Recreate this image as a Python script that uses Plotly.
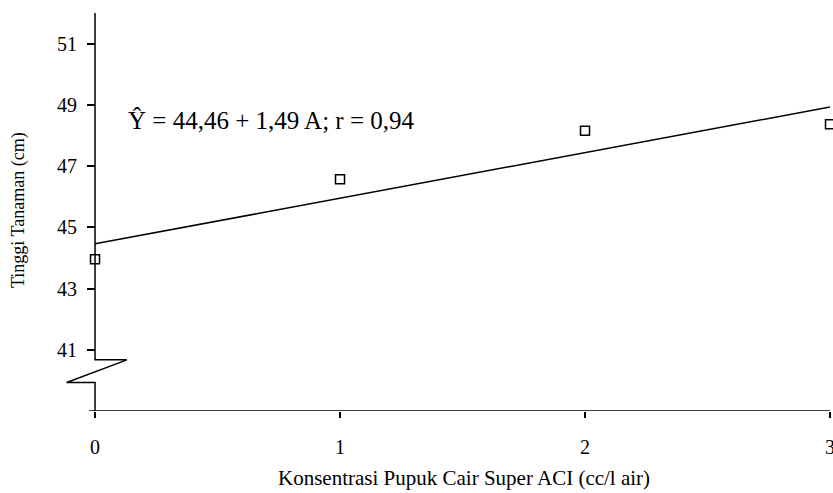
import plotly.graph_objects as go

# Data
konsentrasi = [0, 1, 2, 3]
tinggi = [43.96, 46.57, 48.15, 48.37]
intercept = 44.46
slope = 1.49
y_ticks = [41, 43, 45, 47, 49, 51]
x_ticks = [0, 1, 2, 3]

FONT = "Liberation Serif"
X0, X1 = -0.143, 3.0
Y0, Y1 = 39.0, 52.0

fit_x = [konsentrasi[0], konsentrasi[-1]]
fit_y = [intercept + slope * v for v in fit_x]

fig = go.Figure()
fig.add_trace(go.Scatter(x=fit_x, y=fit_y, mode="lines",
                         line=dict(color="black", width=1.5), showlegend=False))
fig.add_trace(go.Scatter(x=konsentrasi, y=tinggi, mode="markers",
                         marker=dict(symbol="square-open", size=9, color="black",
                                     line=dict(width=1.5, color="black")),
                         cliponaxis=False, showlegend=False))

line_style = dict(color="black", width=1.5)
# x axis line
fig.add_shape(type="line", x0=-0.0245, x1=X1, y0=Y0, y1=Y0, xref="x", yref="y", line=line_style)
# y axis line with break symbol
brk_top = 40.67
brk_bot = 39.93
path = (f"M 0,{Y1} L 0,{brk_top} L 0.13,{brk_top} L -0.116,{brk_bot} "
        f"L 0,{brk_bot} L 0,{Y0}")
fig.add_shape(type="path", path=path, xref="x", yref="y", line=line_style)

fig.update_layout(
    width=833, height=493,
    margin=dict(l=60, r=3, t=13, b=82, autoexpand=False),
    plot_bgcolor="white", paper_bgcolor="white",
    font=dict(family=FONT, size=20, color="black"),
    xaxis=dict(range=[X0, X1], tickvals=x_ticks, ticktext=[str(v) for v in x_ticks],
               ticks="outside", ticklen=6, tickwidth=1.5, tickcolor="black",
               showgrid=False, zeroline=False, showline=False, automargin=False,
               ticklabeloverflow="allow",
               ticklabelstandoff=12, tickfont=dict(family=FONT, size=20)),
    yaxis=dict(range=[Y0, Y1], tickvals=y_ticks, ticktext=[str(v) for v in y_ticks],
               anchor="free", position=35 / 770, automargin=False,
               ticks="outside", ticklen=8, tickwidth=1.5, tickcolor="black",
               showgrid=False, zeroline=False, showline=False,
               ticklabelstandoff=6, tickfont=dict(family=FONT, size=20)),
)

pw = 833 - 60 - 3
ph = 493 - 13 - 82
def px_to_paper(px, py):
    return (px - 60) / pw, (493 - 82 - py) / ph

ax, ay = px_to_paper(126, 120)
tx, ty = px_to_paper(464, 478)
yx, yy = px_to_paper(18, 210)

fig.update_layout(annotations=[
    dict(text="Ŷ = 44,46 + 1,49 A; r = 0,94", x=ax, y=ay, xref="paper", yref="paper",
         showarrow=False, font=dict(family=FONT, size=25), xanchor="left", yanchor="middle"),
    dict(text="Konsentrasi Pupuk Cair Super ACI (cc/l air)", x=tx, y=ty, xref="paper",
         yref="paper", showarrow=False, font=dict(family=FONT, size=21),
         xanchor="center", yanchor="middle"),
    dict(text="Tinggi Tanaman (cm)", x=yx, y=yy, xref="paper", yref="paper",
         showarrow=False, textangle=-90, font=dict(family=FONT, size=18),
         xanchor="center", yanchor="middle"),
])

fig.write_html("out.html")
